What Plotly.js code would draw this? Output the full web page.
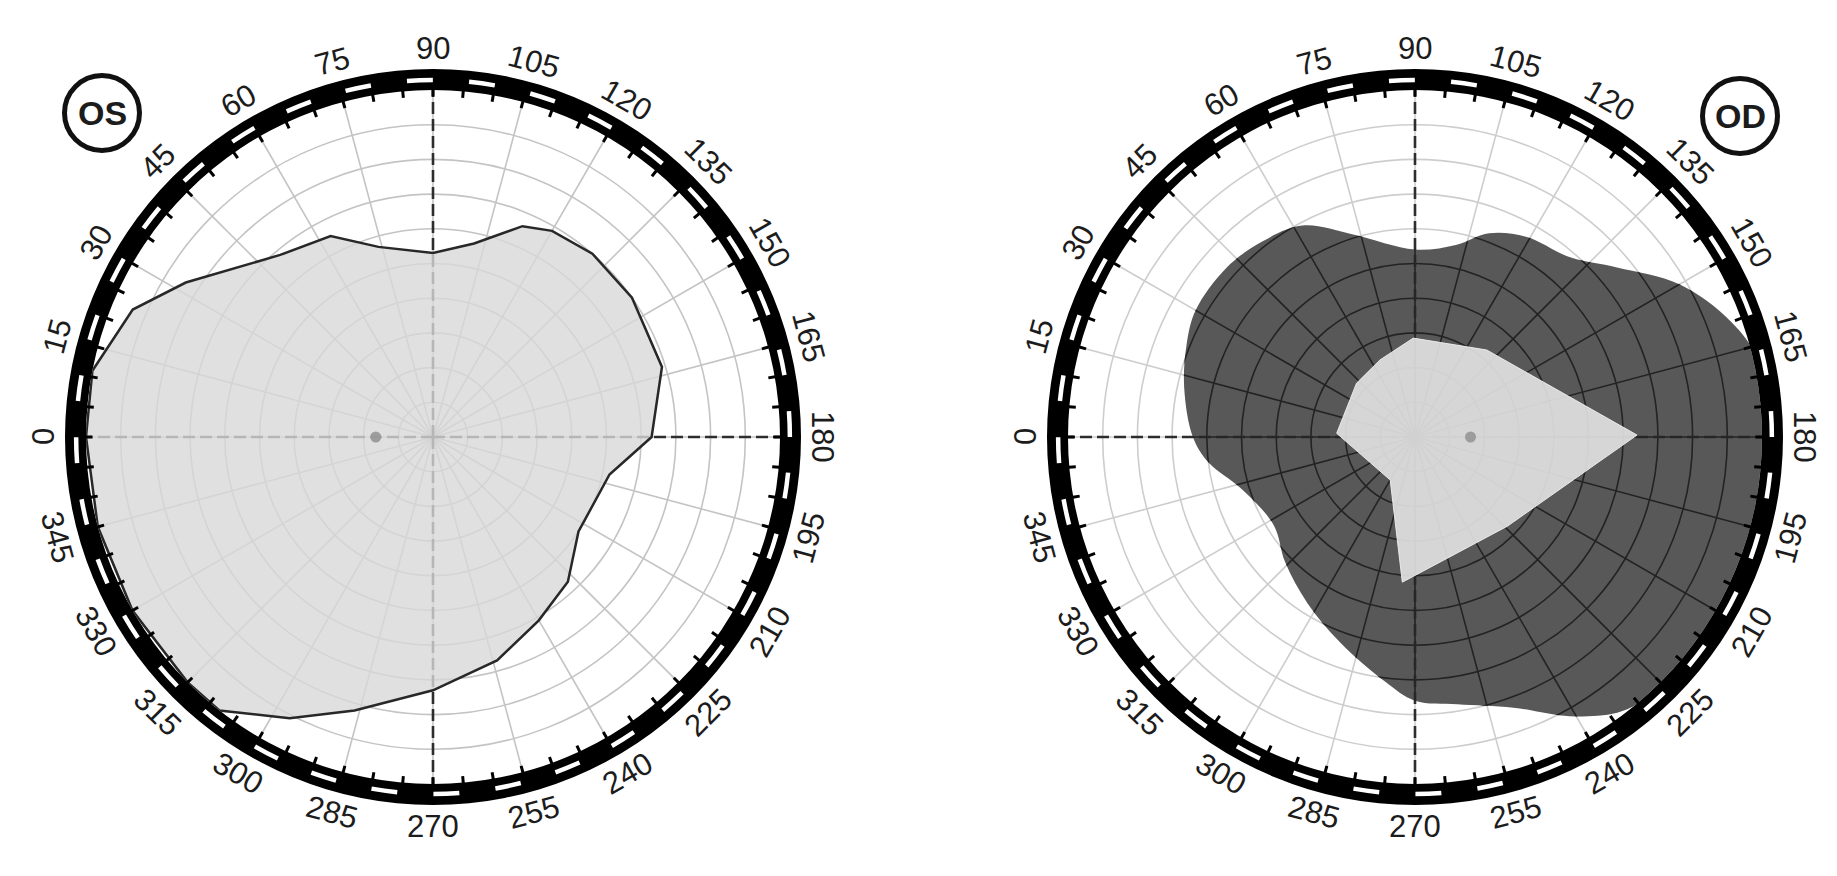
<!DOCTYPE html>
<html>
<head>
<meta charset="utf-8">
<script src="https://cdn.plot.ly/plotly-3.0.1.min.js"></script>
<style>
html,body{margin:0;padding:0;background:#ffffff;}
#chart{width:1837px;height:876px;}
</style>
</head>
<body>
<div id="chart"></div>
<script>
// ---------------- data ----------------
const angleTicks = [0,15,30,45,60,75,90,105,120,135,150,165,180,195,210,225,240,255,270,285,300,315,330,345];
const gridRadii = [10,20,30,40,50,60,70,80,90];
const crossAngles = [0,90,180,270];

// OS (left eye) isopter boundary
const osTheta = [0, 11, 23, 32, 50, 63, 74, 90, 102, 113, 120, 131, 145, 163, 180, 192, 213, 227, 240, 254, 270, 286, 297, 308, 315, 330, 345];
const osR     = [100,100, 94, 84,68.5, 65, 57, 53,  57,  66,  68.6, 70, 70,  69,  63,  52,  50,  57,  61,  67,  73,  82,  91, 100, 100, 100, 100];

// OD (right eye) outer boundary of the dark region
const odOuterTheta = [0, 12, 22, 30, 42, 52, 62, 73, 90, 102, 110, 119, 131, 140, 150, 160, 167, 180, 195, 210, 225, 233, 241, 250, 261, 270, 277, 290, 303, 316, 328, 343, 353];
const odOuterR     = [64, 68, 71, 73, 73,71.5,69, 61, 54, 56.6,62.5, 66, 68.5, 76, 88,  97, 101, 101, 101, 101, 101,  99,  92,  83,  78,  76,  71,  63,  57,  52,  48,  52,  60];

// OD inner (spared) polygon
const odInnerTheta = [2.7, 42.6, 65.6, 89, 129.5, 179.5, 224, 275, 300];
const odInnerR     = [22.6, 22.9, 24.4, 28.5, 32.5, 64, 37, 42, 14.3];

// blind spot markers
const osBlindTheta = [0],   osBlindR = [16.5];
const odBlindTheta = [180], odBlindR = [16];

const eyeNames = ['OS', 'OD'];

// ---------------- geometry / style ----------------
const W = 1837, H = 876;
const panels = [{cx: 433, cy: 437, badge: [102, 113]}, {cx: 1415, cy: 437, badge: [1740, 116]}];
const R_GRID = 347, R_RING = 368, R_LABEL = 389;
const FONT = 'Liberation Sans, Arial, Helvetica, sans-serif';

function dom(cx, cy, R) {
  return {x: [(cx - R) / W, (cx + R) / W], y: [1 - (cy + R) / H, 1 - (cy - R) / H]};
}
const closeLoop = a => a.concat([a[0]]);
const hidden = {showticklabels: false, ticks: '', showline: false};

function baseAngular(extra) {
  return Object.assign({direction: 'clockwise', rotation: 180, showticklabels: false, ticks: '', showline: false}, extra);
}

function gridPolar(p, gridColor) {
  return {
    domain: dom(p.cx, p.cy, R_GRID), bgcolor: '#ffffff',
    radialaxis: Object.assign({range: [0, 100], tickmode: 'array', tickvals: gridRadii, gridcolor: gridColor, gridwidth: 1.6}, hidden),
    angularaxis: baseAngular({tickmode: 'array', tickvals: angleTicks, gridcolor: gridColor, gridwidth: 1.6})
  };
}
function crossPolar(p) {
  return {
    domain: dom(p.cx, p.cy, R_GRID), bgcolor: 'rgba(0,0,0,0)',
    radialaxis: Object.assign({range: [0, 100], showgrid: false}, hidden),
    angularaxis: baseAngular({tickmode: 'array', tickvals: crossAngles, gridcolor: 'rgb(45,45,45)', gridwidth: 2.6, griddash: '12px,5px'})
  };
}
function ringPolar(p) {
  const dashR = R_GRID + 0.47 * (R_RING - R_GRID);
  const period = 2 * Math.PI * dashR / 36;
  return {
    domain: dom(p.cx, p.cy, R_RING), bgcolor: '#000000', hole: R_GRID / R_RING,
    radialaxis: Object.assign({range: [0, 1], tickmode: 'array', tickvals: [0.47], gridcolor: '#ffffff', gridwidth: 4.5,
                               griddash: '26px,' + (period - 26).toFixed(2) + 'px'}, hidden),
    angularaxis: baseAngular({showgrid: false})
  };
}
function teethPolar(p) {
  return {
    domain: dom(p.cx, p.cy, R_GRID + 1), bgcolor: 'rgba(0,0,0,0)',
    radialaxis: Object.assign({range: [0, 100], showgrid: false}, hidden),
    angularaxis: {direction: 'clockwise', rotation: 180, tickmode: 'linear', tick0: 0, dtick: 5, ticks: 'inside', ticklen: 7,
                  tickwidth: 3, tickcolor: '#000000', showticklabels: false, showline: false, showgrid: false}
  };
}

// ---------------- traces ----------------
const data = [];
const base = {type: 'scatterpolar', hoverinfo: 'skip', showlegend: false};

// OS panel
data.push(Object.assign({}, base, {subplot: 'polar', r: [], theta: [], mode: 'lines'}));
data.push(Object.assign({}, base, {subplot: 'polar2', r: closeLoop(osR), theta: closeLoop(osTheta), mode: 'lines',
  fill: 'toself', fillcolor: 'rgba(216,216,216,0.8)', line: {color: 'rgb(40,40,40)', width: 2.5}}));
data.push(Object.assign({}, base, {subplot: 'polar2', r: osBlindR, theta: osBlindTheta, mode: 'markers',
  marker: {size: 11, color: 'rgba(150,150,150,0.9)'}}));
data.push(Object.assign({}, base, {subplot: 'polar3', r: [], theta: [], mode: 'lines'}));

// OD panel
const maskR = angleTicks.map(() => 118).concat([null]).concat(closeLoop(odOuterR).slice().reverse());
const maskT = angleTicks.slice().concat([null]).concat(closeLoop(odOuterTheta).slice().reverse());
data.push(Object.assign({}, base, {subplot: 'polar4', r: maskR, theta: maskT, mode: 'lines', connectgaps: false,
  fill: 'toself', fillcolor: 'rgba(255,255,255,0.78)', line: {width: 0, shape: 'spline', color: 'rgba(0,0,0,0)'}}));
data.push(Object.assign({}, base, {subplot: 'polar5', r: closeLoop(odOuterR), theta: closeLoop(odOuterTheta), mode: 'lines',
  fill: 'toself', fillcolor: 'rgba(37,37,37,0.764)', line: {width: 0, shape: 'spline', color: 'rgba(0,0,0,0)'}}));
data.push(Object.assign({}, base, {subplot: 'polar5', r: closeLoop(odInnerR), theta: closeLoop(odInnerTheta), mode: 'lines',
  fill: 'toself', fillcolor: 'rgba(228,228,228,0.9)', line: {width: 1, color: 'rgba(240,240,240,0.9)'}}));
data.push(Object.assign({}, base, {subplot: 'polar5', r: odBlindR, theta: odBlindTheta, mode: 'markers',
  marker: {size: 11, color: 'rgba(150,150,150,0.9)'}}));
data.push(Object.assign({}, base, {subplot: 'polar6', r: [], theta: [], mode: 'lines'}));

// ring teeth
data.push(Object.assign({}, base, {subplot: 'polar7', r: [], theta: [], mode: 'lines'}));
data.push(Object.assign({}, base, {subplot: 'polar8', r: [], theta: [], mode: 'lines'}));

// ---------------- labels ----------------
const annotations = [];
const shapes = [];
panels.forEach((p, i) => {
  angleTicks.forEach(a => {
    const rad = a * Math.PI / 180;
    const x = p.cx - R_LABEL * Math.cos(rad);
    const y = p.cy - R_LABEL * Math.sin(rad);
    const rot = (a <= 180) ? a - 90 : a - 270;
    annotations.push({xref: 'paper', yref: 'paper', x: x / W, y: 1 - y / H, xanchor: 'center', yanchor: 'middle',
      text: String(a), showarrow: false, textangle: rot, font: {family: FONT, size: 31, color: '#1c1c1c'}});
  });
  const [bx, by] = p.badge;
  const br = 37.5;
  shapes.push({type: 'circle', xref: 'paper', yref: 'paper', x0: (bx - br) / W, x1: (bx + br) / W,
    y0: 1 - (by + br) / H, y1: 1 - (by - br) / H, line: {color: '#111111', width: 5}, fillcolor: 'rgba(0,0,0,0)'});
  annotations.push({xref: 'paper', yref: 'paper', x: bx / W, y: 1 - by / H, xanchor: 'center', yanchor: 'middle',
    text: '<b>' + eyeNames[i] + '</b>', showarrow: false, font: {family: FONT, size: 34, color: '#1c1c1c'}});
});

const layout = {
  width: W, height: H, autosize: false,
  margin: {l: 0, r: 0, t: 0, b: 0, pad: 0},
  paper_bgcolor: '#ffffff',
  showlegend: false, hovermode: false, dragmode: false,
  polar: gridPolar(panels[0], 'rgb(196,196,196)'),
  polar2: crossPolar(panels[0]),
  polar3: ringPolar(panels[0]),
  polar4: gridPolar(panels[1], 'rgb(30,30,30)'),
  polar5: crossPolar(panels[1]),
  polar6: ringPolar(panels[1]),
  polar7: teethPolar(panels[0]),
  polar8: teethPolar(panels[1]),
  annotations: annotations,
  shapes: shapes
};

Plotly.newPlot('chart', data, layout, {staticPlot: true, displayModeBar: false});
</script>
</body>
</html>
